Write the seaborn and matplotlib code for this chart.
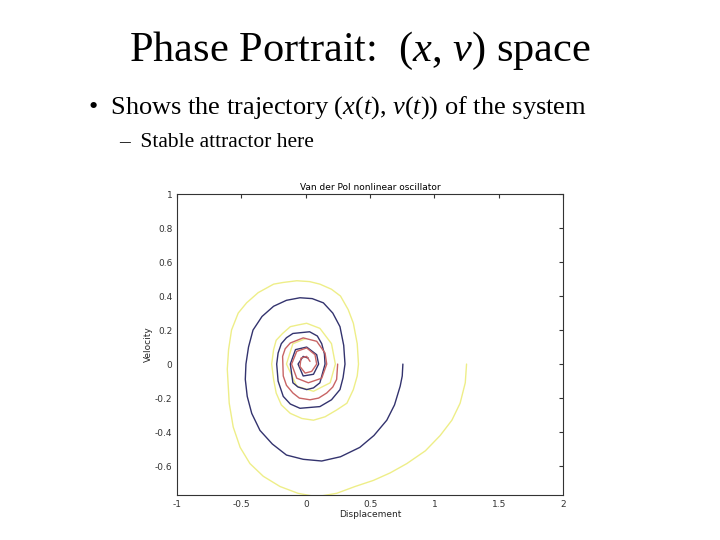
import matplotlib
matplotlib.use('Agg')
import matplotlib.pyplot as plt
import seaborn as sns
import pandas as pd

sns.set_style('white')
plt.rcParams['font.family'] = ['Liberation Serif', 'DejaVu Serif']
plt.rcParams['mathtext.fontset'] = 'custom'
plt.rcParams['mathtext.rm'] = 'Liberation Serif'
plt.rcParams['mathtext.it'] = 'Liberation Serif:italic'
plt.rcParams['text.color'] = 'black'

# trajectories (displacement, velocity)
yellow_x = [1.25, 1.24, 1.20, 1.136, 1.045, 0.93, 0.786, 0.656, 0.526, 0.383, 0.24, 0.085, -0.06, -0.2, -0.33,
            -0.434, -0.51, -0.564, -0.595, -0.61, -0.6, -0.577, -0.525, -0.46, -0.37, -0.25, -0.175, -0.07, 0.03,
            0.11, 0.2, 0.27, 0.33, 0.37, 0.40, 0.41, 0.40, 0.37, 0.32, 0.24, 0.15, 0.06, -0.03, -0.12, -0.19,
            -0.23, -0.25, -0.265, -0.25, -0.23, -0.18, -0.12, -0.06, 0.007, 0.11, 0.2, 0.23, 0.19, 0.06, -0.07,
            -0.15, -0.1, 0.0]
yellow_v = [0.0, -0.11, -0.23, -0.33, -0.42, -0.51, -0.585, -0.64, -0.684, -0.72, -0.76, -0.78, -0.76, -0.72, -0.66,
            -0.585, -0.49, -0.37, -0.23, -0.03, 0.085, 0.2, 0.30, 0.36, 0.42, 0.47, 0.48, 0.49, 0.485,
            0.47, 0.44, 0.40, 0.32, 0.24, 0.12, 0.0, -0.07, -0.15, -0.23, -0.27, -0.31, -0.33, -0.32, -0.29, -0.24,
            -0.17, -0.09, 0.0, 0.085, 0.14, 0.18, 0.22, 0.23, 0.24, 0.21, 0.12, 0.0, -0.11, -0.16, -0.13,
            0.0, 0.12, 0.15]
blue_x = [0.755, 0.75, 0.734, 0.69, 0.63, 0.53, 0.42, 0.27, 0.124, -0.02, -0.15, -0.26, -0.356, -0.42, -0.455,
          -0.47, -0.465, -0.445, -0.41, -0.34, -0.25, -0.15, -0.045, 0.05, 0.137, 0.21, 0.266, 0.295, 0.305,
          0.29, 0.266, 0.2, 0.11, -0.045, -0.12, -0.175, -0.215, -0.226, -0.215, -0.19, -0.15, -0.1, 0.03,
          0.09, 0.124, 0.145, 0.15, 0.11, 0.06, 0.007, -0.06, -0.1, -0.12, -0.08, 0.007, 0.085, 0.1, 0.06,
          -0.02, -0.06, -0.02, 0.02]
blue_v = [0.0, -0.07, -0.13, -0.24, -0.33, -0.42, -0.49, -0.545, -0.57, -0.56, -0.535, -0.47, -0.39, -0.29, -0.19,
          -0.09, 0.0, 0.1, 0.2, 0.28, 0.34, 0.375, 0.39, 0.385, 0.36, 0.30, 0.22, 0.11, 0.0,
          -0.08, -0.15, -0.21, -0.25, -0.26, -0.235, -0.19, -0.1, 0.0, 0.065, 0.12, 0.155, 0.18, 0.19,
          0.165, 0.12, 0.06, 0.0, -0.11, -0.14, -0.15, -0.135, -0.11, 0.0, 0.085, 0.10, 0.055, 0.0, -0.06,
          -0.07, 0.0, 0.045, 0.035]
red_x = [0.248, 0.24, 0.21, 0.163, 0.1, 0.033, -0.05, -0.1, -0.15, -0.175, -0.18, -0.16, -0.12, -0.02, 0.085,
         0.15, 0.163, 0.124, 0.02, -0.07, -0.11, -0.07, 0.007, 0.072, 0.085, 0.046, -0.005, -0.045, -0.037,
         0.007, 0.033]
red_v = [0.0, -0.09, -0.135, -0.17, -0.2, -0.21, -0.2, -0.17, -0.125, -0.07, 0.045, 0.09, 0.124, 0.154, 0.134,
         0.065, 0.0, -0.083, -0.11, -0.083, 0.0, 0.075, 0.095, 0.055, 0.0, -0.043, -0.053, -0.014, 0.035,
         0.045, 0.016]

xticks = [-1, -0.5, 0, 0.5, 1, 1.5, 2]
yticks = [-0.6, -0.4, -0.2, 0, 0.2, 0.4, 0.6, 0.8, 1]

fig = plt.figure(figsize=(7.2, 5.4), dpi=100)
fig.text(0.5, 0.905, r'Phase Portrait:  ($x$, $v$) space', ha='center', va='center', fontsize=30.5)
fig.text(0.122, 0.80, r'•  Shows the trajectory ($x$($t$), $v$($t$)) of the system', ha='left', va='center', fontsize=19)
fig.text(0.165, 0.736, '–  Stable attractor here', ha='left', va='center', fontsize=15.5)

ax = fig.add_axes([0.246, 0.0833, 0.536, 0.5574])
for xs, vs, c in [(yellow_x, yellow_v, '#eeee88'), (blue_x, blue_v, '#33336e'), (red_x, red_v, '#c86464')]:
    df = pd.DataFrame({'x': xs, 'v': vs})
    sns.lineplot(data=df, x='x', y='v', sort=False, estimator=None, color=c, lw=1.0, ax=ax)

ax.set_xlim(-1, 2)
ax.set_ylim(-0.77, 1)
ax.set_xticks(xticks)
ax.set_yticks(yticks)
ax.set_xticklabels(['-1', '-0.5', '0', '0.5', '1', '1.5', '2'])
ax.set_yticklabels(['-0.6', '-0.4', '-0.2', '0', '0.2', '0.4', '0.6', '0.8', '1'])
ax.tick_params(direction='in', length=3, labelsize=6.5, colors='#333333', top=True, right=True)
for s in ax.spines.values():
    s.set_color('#333333')
    s.set_linewidth(0.8)
ax.set_xlabel('Displacement', fontsize=6.5, family='DejaVu Sans', labelpad=1)
ax.set_ylabel('Velocity', fontsize=6.5, family='DejaVu Sans', labelpad=1)
ax.set_title('Van der Pol nonlinear oscillator', fontsize=6.5, family='DejaVu Sans', pad=3)
for lab in ax.get_xticklabels() + ax.get_yticklabels():
    lab.set_family('DejaVu Sans')

fig.savefig('out.png', dpi=100)
